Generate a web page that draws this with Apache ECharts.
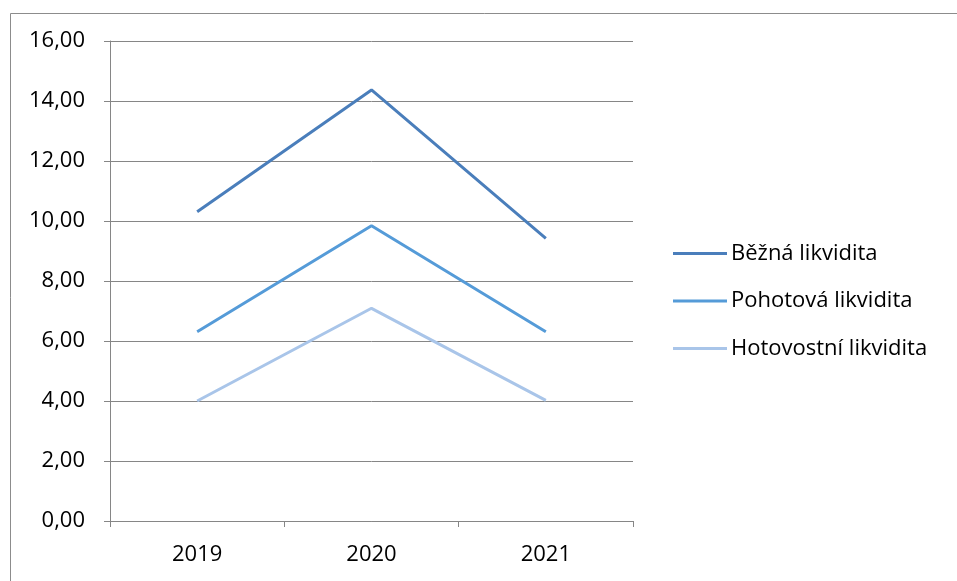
<!DOCTYPE html>
<html>
<head>
<meta charset="utf-8">
<script src="https://cdn.jsdelivr.net/npm/echarts@6/dist/echarts.min.js"></script>
<style>
  html, body { margin: 0; padding: 0; background: #fff; }
  #chart { width: 957px; height: 581px; }
</style>
</head>
<body>
<div id="chart"></div>
<script>
// Liquidity ratios per year
const years = ['2019', '2020', '2021'];
const seriesNames = ['Běžná likvidita', 'Pohotová likvidita', 'Hotovostní likvidita'];
const bezna = [10.31, 14.37, 9.42];
const pohotova = [6.31, 9.84, 6.31];
const hotovostni = [4.00, 7.09, 4.02];
const seriesColors = ['#4A7EBB', '#559BD8', '#A9C5E9'];

const FONT = '"Open Sans", "Liberation Sans", sans-serif';
const FS = 22;
const chart = echarts.init(document.getElementById('chart'), null, { renderer: 'canvas' });

const values = [bezna, pohotova, hotovostni];

chart.setOption({
  animation: false,
  backgroundColor: '#ffffff',
  graphic: [{
    type: 'rect',
    left: 8, top: 11,
    shape: { width: 1000, height: 600 },
    style: { fill: 'none', stroke: '#8c8c8c', lineWidth: 1 },
    silent: true
  }],
  grid: { left: 110, right: 324, top: 41, bottom: 60, containLabel: false },
  legend: {
    orient: 'vertical',
    left: 668, top: 237.5,
    padding: 5,
    itemWidth: 54, itemHeight: 3, itemGap: 25.5,
    icon: 'rect',
    textStyle: { fontFamily: FONT, fontSize: FS, lineHeight: 22, color: '#000', padding: [0, 0, 0, -1] },
    data: seriesNames
  },
  xAxis: {
    type: 'category',
    data: years,
    boundaryGap: true,
    axisLine: { lineStyle: { color: '#868686', width: 1 } },
    axisTick: { show: true, length: 6, lineStyle: { color: '#868686' } },
    axisLabel: { fontFamily: FONT, fontSize: FS, color: '#000', margin: 23 }
  },
  yAxis: {
    type: 'value',
    min: 0, max: 16, interval: 2,
    axisLine: { show: true, lineStyle: { color: '#868686', width: 1 } },
    axisTick: { show: true, length: 6, lineStyle: { color: '#868686' } },
    splitLine: { lineStyle: { color: '#868686', width: 1 } },
    axisLabel: {
      fontFamily: FONT, fontSize: FS, color: '#000', margin: 25,
      formatter: v => v.toFixed(2).replace('.', ',')
    }
  },
  series: seriesNames.map((name, i) => ({
    name,
    type: 'line',
    data: values[i],
    showSymbol: false,
    symbol: 'none',
    lineStyle: { color: seriesColors[i], width: 3 },
    itemStyle: { color: seriesColors[i] }
  }))
});
</script>
</body>
</html>
